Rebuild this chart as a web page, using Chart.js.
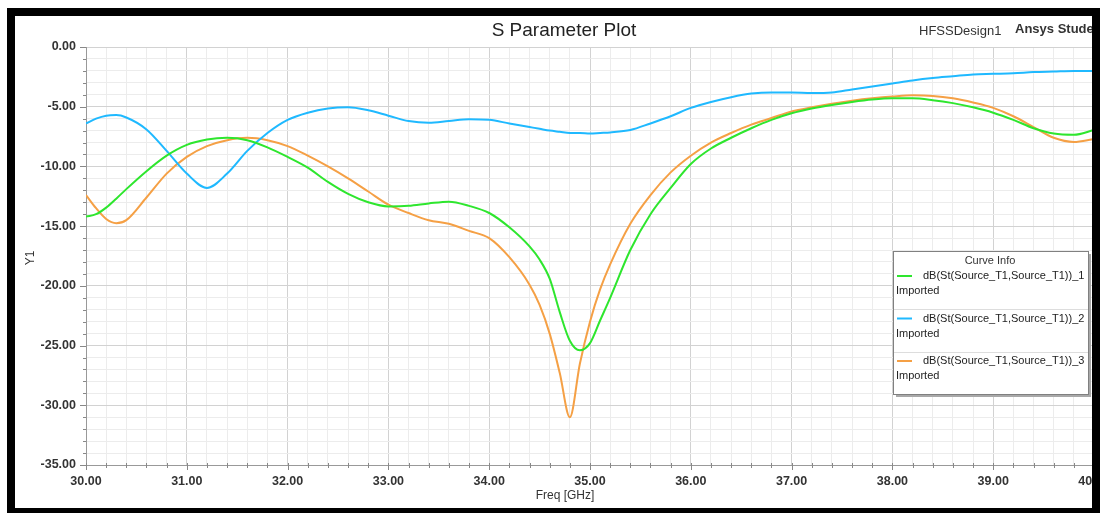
<!DOCTYPE html>
<html>
<head>
<meta charset="utf-8">
<script src="https://cdn.jsdelivr.net/npm/chart.js@4.4.0/dist/chart.umd.min.js"></script>
<style>
  html, body { margin: 0; padding: 0; background: #fff; }
  #wrap { position: relative; width: 1100px; height: 513px; overflow: hidden; }
  #chart { position: absolute; left: 0; top: 0; }
  #frame {
    position: absolute; left: 7px; top: 8px; width: 1093px; height: 505px;
    box-sizing: border-box; border: 8px solid #000; border-bottom-width: 5px;
    pointer-events: none;
  }
</style>
</head>
<body>
<div id="wrap">
  <canvas id="chart" width="1100" height="513"></canvas>
  <div id="frame"></div>
</div>
<script>
// frequency points (GHz)
const freq = [30.0, 30.1, 30.2, 30.3, 30.4, 30.6, 30.8, 31.0, 31.2, 31.4, 31.6, 31.8, 32.0,
  32.2, 32.4, 32.6, 32.8, 33.0, 33.2, 33.4, 33.6, 33.8, 34.0, 34.2, 34.4,
  34.5, 34.6, 34.7, 34.8, 34.9, 35.0, 35.1, 35.2,
  35.4, 35.6, 35.8, 36.0, 36.2, 36.4, 36.6, 36.8, 37.0,
  37.2, 37.4, 37.6, 37.8, 38.0, 38.2, 38.4, 38.6, 38.8, 39.0,
  39.2, 39.4, 39.6, 39.8, 40.0];

// dB values
const curve1 = [-14.2, -14.0, -13.45, -12.7, -11.9, -10.4, -9.1, -8.2, -7.75, -7.6, -7.8, -8.4, -9.2,
  -10.1, -11.3, -12.3, -13.0, -13.35, -13.3, -13.1, -12.95, -13.3, -13.9, -15.1, -16.7,
  -17.8, -19.4, -22.2, -24.6, -25.4, -24.8, -22.9, -21.0,
  -17.0, -14.0, -11.8, -9.8, -8.5, -7.6, -6.8, -6.1, -5.55,
  -5.15, -4.85, -4.6, -4.4, -4.3, -4.3, -4.45, -4.7, -5.05, -5.5,
  -6.1, -6.8, -7.25, -7.35, -6.95];

const curve2 = [-6.4, -6.0, -5.75, -5.7, -5.9, -6.9, -8.7, -10.6, -11.8, -10.6, -8.7, -7.2, -6.1,
  -5.5, -5.15, -5.05, -5.3, -5.75, -6.2, -6.35, -6.2, -6.05, -6.1, -6.4, -6.7,
  -6.85, -7.0, -7.1, -7.2, -7.2, -7.25, -7.2, -7.15,
  -6.95, -6.4, -5.8, -5.1, -4.6, -4.2, -3.9, -3.8, -3.8,
  -3.85, -3.8, -3.55, -3.3, -3.05, -2.8, -2.6, -2.45, -2.3, -2.25,
  -2.2, -2.1, -2.05, -2.0, -2.0];

const curve3 = [-12.4, -13.5, -14.4, -14.75, -14.5, -12.6, -10.6, -9.2, -8.3, -7.8, -7.6, -7.8, -8.3,
  -9.1, -10.0, -11.0, -12.1, -13.2, -13.9, -14.5, -14.8, -15.4, -16.0, -17.6, -19.9,
  -21.6, -24.0, -27.3, -31.0, -26.5, -23.0, -20.3, -18.2,
  -14.8, -12.4, -10.5, -9.1, -8.0, -7.2, -6.5, -5.95, -5.4,
  -5.05, -4.75, -4.5, -4.3, -4.15, -4.05, -4.1, -4.3, -4.65, -5.1,
  -5.8, -6.7, -7.6, -7.95, -7.7];

const seriesNames = ['dB(St(Source_T1,Source_T1))_1', 'dB(St(Source_T1,Source_T1))_2', 'dB(St(Source_T1,Source_T1))_3'];
const seriesNote = 'Imported';
const colors = ['#2ee62e', '#1fb9ff', '#f5a045'];

const FONT = '"Liberation Sans", Arial, sans-serif';

function isMajor(v, step) {
  const r = v / step;
  return Math.abs(r - Math.round(r)) < 1e-6;
}

// titles, legend box and tick marks
const decor = {
  id: 'decor',
  afterDraw(chart) {
    const ctx = chart.ctx;
    const area = chart.chartArea;
    const xs = chart.scales.x, ys = chart.scales.y;
    ctx.save();

    // tick marks
    ctx.strokeStyle = '#888';
    ctx.lineWidth = 1;
    xs.ticks.forEach(t => {
      const px = Math.round(xs.getPixelForValue(t.value)) + 0.5;
      const len = isMajor(t.value, 1) ? 5 : 3;
      ctx.beginPath();
      ctx.moveTo(px, area.bottom - 2);
      ctx.lineTo(px, area.bottom + len);
      ctx.stroke();
    });
    ys.ticks.forEach(t => {
      const py = Math.round(ys.getPixelForValue(t.value)) + 0.5;
      const len = isMajor(t.value, 5) ? 6 : 3;
      ctx.beginPath();
      ctx.moveTo(area.left - len, py);
      ctx.lineTo(area.left, py);
      ctx.stroke();
    });

    // headings
    ctx.fillStyle = '#222';
    ctx.textBaseline = 'middle';
    ctx.textAlign = 'center';
    ctx.font = '19px ' + FONT;
    ctx.fillText('S Parameter Plot', 564, 31);
    ctx.textAlign = 'left';
    ctx.font = '13px ' + FONT;
    ctx.fillStyle = '#333';
    ctx.fillText('HFSSDesign1', 919, 31);
    ctx.font = 'bold 13px ' + FONT;
    ctx.fillText('Ansys Student', 1015, 29);

    // axis titles
    ctx.font = '12px ' + FONT;
    ctx.textAlign = 'center';
    ctx.fillText('Freq [GHz]', 565, 496);
    ctx.save();
    ctx.translate(31, 258);
    ctx.rotate(-Math.PI / 2);
    ctx.fillText('Y1', 0, 0);
    ctx.restore();

    // legend box
    const bx = 893, by = 251, bw = 195, bh = 143;
    ctx.fillStyle = '#a8a8a8';
    ctx.fillRect(bx + 3, by + 3, bw, bh);
    ctx.fillStyle = '#fff';
    ctx.fillRect(bx, by, bw, bh);
    ctx.strokeStyle = '#808080';
    ctx.strokeRect(bx + 0.5, by + 0.5, bw, bh);
    ctx.strokeStyle = '#dddddd';
    [309, 352].forEach(y => {
      ctx.beginPath();
      ctx.moveTo(bx + 1, y + 0.5);
      ctx.lineTo(bx + bw, y + 0.5);
      ctx.stroke();
    });
    ctx.fillStyle = '#333';
    ctx.font = '11px ' + FONT;
    ctx.textAlign = 'center';
    ctx.fillText('Curve Info', 990, 261);
    ctx.textAlign = 'left';
    seriesNames.forEach((name, i) => {
      const y = 276 + i * 42.5;
      ctx.strokeStyle = colors[i];
      ctx.lineWidth = 2;
      ctx.beginPath();
      ctx.moveTo(897, y);
      ctx.lineTo(912, y);
      ctx.stroke();
      ctx.fillStyle = '#222';
      ctx.fillText(name, 923, y);
      ctx.fillText(seriesNote, 896, y + 15);
    });
    ctx.restore();
  }
};

const datasets = [curve1, curve2, curve3].map((vals, i) => ({
  label: seriesNames[i],
  data: freq.map((f, j) => ({ x: f, y: vals[j] })),
  borderColor: colors[i],
  borderWidth: 2,
  pointRadius: 0,
  fill: false,
  cubicInterpolationMode: 'monotone'
}));

new Chart(document.getElementById('chart'), {
  type: 'line',
  data: { datasets: datasets },
  plugins: [decor],
  options: {
    responsive: false,
    animation: false,
    layout: { padding: { left: 0, right: 6, top: 47, bottom: 0 } },
    plugins: { legend: { display: false }, title: { display: false }, tooltip: { enabled: false } },
    scales: {
      x: {
        type: 'linear',
        min: 30, max: 40,
        afterFit(s) { s.height = 48; s.paddingLeft = 0; s.paddingRight = 0; },
        ticks: {
          stepSize: 0.2,
          autoSkip: false,
          maxRotation: 0,
          padding: 9,
          color: '#333',
          font: { family: FONT, size: 12.5, weight: 'bold' },
          callback: v => isMajor(v, 1) ? v.toFixed(2) : ''
        },
        grid: {
          drawTicks: false,
          color: c => isMajor(c.tick.value, 1) ? '#d2d2d2' : '#ececec'
        },
        border: { display: true, color: '#999' }
      },
      y: {
        min: -35, max: 0,
        afterFit(s) { s.width = 86; s.paddingTop = 0; s.paddingBottom = 0; },
        ticks: {
          stepSize: 1,
          autoSkip: false,
          padding: 10,
          color: '#333',
          font: { family: FONT, size: 12.5, weight: 'bold' },
          callback: v => isMajor(v, 5) ? v.toFixed(2) : ''
        },
        grid: {
          drawTicks: false,
          color: c => isMajor(c.tick.value, 5) ? '#d2d2d2' : '#ececec'
        },
        border: { display: true, color: '#999' }
      }
    }
  }
});
</script>
</body>
</html>
